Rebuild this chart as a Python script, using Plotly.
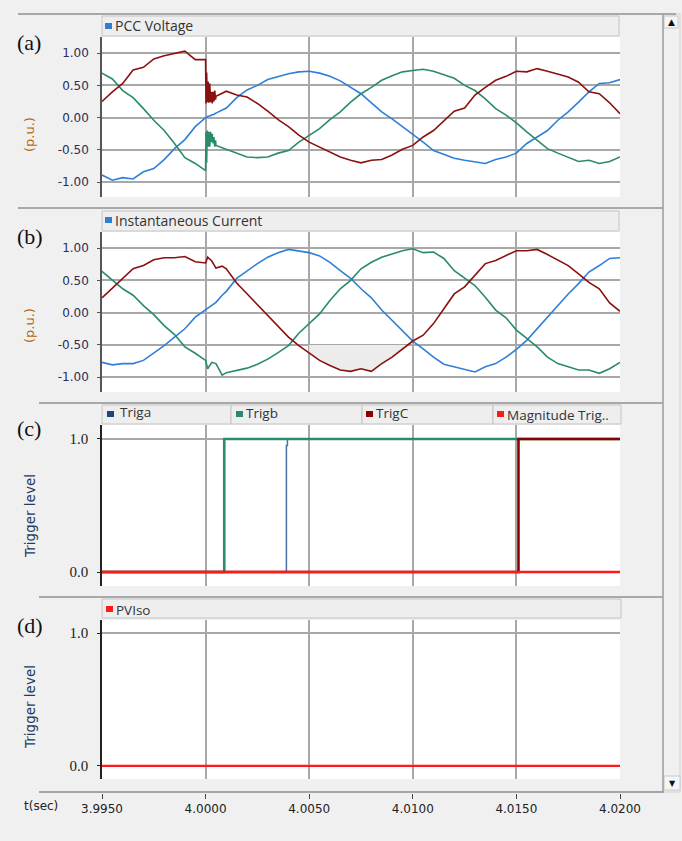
import plotly.graph_objects as go

W, H = 682, 841
def fx(p): return p / W
def fy(p): return 1 - p / H

# ---------------- data ----------------
t_base = [round(3.995 + 0.0005 * i, 5) for i in range(51)]
t_trans_a = [4.00002, 4.00005, 4.00008, 4.00012, 4.00016, 4.0002, 4.00024,
             4.00028, 4.00032, 4.00036, 4.0004, 4.00044, 4.00048]
t_a = t_base[:11] + t_trans_a + t_base[11:]

volt_c = [0.25, 0.40, 0.53, 0.74, 0.78, 0.91, 0.96, 0.99, 1.03, 0.90, 0.90,
          0.22, 0.70, 0.24, 0.56, 0.23, 0.53, 0.24, 0.40, 0.22, 0.40, 0.25, 0.42, 0.28,
          0.33, 0.41, 0.35, 0.32, 0.22, 0.10, -0.03, -0.14, -0.27, -0.38, -0.46, -0.54,
          -0.61, -0.66, -0.70, -0.66, -0.65, -0.58, -0.49, -0.43, -0.30, -0.20, -0.05,
          0.10, 0.15, 0.35, 0.47, 0.58, 0.64, 0.72, 0.71, 0.76, 0.72, 0.67, 0.63, 0.55,
          0.40, 0.37, 0.23, 0.06]
volt_b = [0.69, 0.60, 0.42, 0.31, 0.14, -0.04, -0.20, -0.40, -0.62, -0.71, -0.82,
          -0.22, -0.70, -0.20, -0.45, -0.22, -0.45, -0.22, -0.38, -0.25, -0.40, -0.30, -0.45, -0.35,
          -0.43, -0.49, -0.56, -0.61, -0.62, -0.61, -0.55, -0.51, -0.38, -0.27, -0.17, -0.03,
          0.09, 0.24, 0.37, 0.47, 0.58, 0.65, 0.71, 0.73, 0.75, 0.72, 0.67, 0.61, 0.50, 0.42,
          0.29, 0.14, 0.04, -0.08, -0.22, -0.35, -0.48, -0.55, -0.61, -0.68, -0.66, -0.71,
          -0.68, -0.61]
volt_a = [-0.89, -0.97, -0.93, -0.95, -0.84, -0.79, -0.65, -0.48, -0.34, -0.14, 0.00,
          0.00, 0.01, 0.01, 0.02, 0.02, 0.03, 0.03, 0.04, 0.04, 0.05, 0.05, 0.06, 0.06,
          0.07, 0.15, 0.31, 0.43, 0.50, 0.59, 0.64, 0.68, 0.71, 0.72, 0.69, 0.64, 0.57, 0.47,
          0.37, 0.23, 0.09, -0.02, -0.14, -0.25, -0.38, -0.51, -0.57, -0.63, -0.66, -0.69,
          -0.71, -0.65, -0.61, -0.55, -0.40, -0.30, -0.20, -0.04, 0.09, 0.24, 0.40, 0.53,
          0.54, 0.59]

t_b = t_base[:11] + [4.0001, 4.0003] + [t_base[11]] + [4.0008] + t_base[12:]
curr_c = [0.23, 0.38, 0.53, 0.68, 0.73, 0.82, 0.85, 0.85, 0.87, 0.79, 0.77,
          0.86, 0.80, 0.69, 0.72, 0.68,
          0.46, 0.29, 0.12, -0.05, -0.21, -0.38, -0.51, -0.63, -0.74, -0.82, -0.89, -0.91,
          -0.87, -0.91, -0.79, -0.69, -0.56, -0.44, -0.35, -0.17, 0.06, 0.29, 0.40, 0.58,
          0.76, 0.81, 0.89, 0.96, 0.96, 0.98, 0.90, 0.81, 0.73, 0.60, 0.47, 0.37, 0.15, 0.02]
curr_b = [0.64, 0.50, 0.37, 0.27, 0.11, -0.03, -0.20, -0.34, -0.53, -0.63, -0.74,
          -0.87, -0.77, -0.79, -0.97, -0.93,
          -0.89, -0.86, -0.80, -0.72, -0.62, -0.51, -0.32, -0.17, -0.02, 0.19, 0.37, 0.50,
          0.68, 0.78, 0.86, 0.91, 0.96, 0.99, 0.93, 0.94, 0.84, 0.65, 0.53, 0.42, 0.24, 0.04,
          -0.08, -0.27, -0.40, -0.53, -0.69, -0.79, -0.84, -0.89, -0.89, -0.94, -0.87, -0.77]
curr_a = [-0.77, -0.81, -0.79, -0.79, -0.74, -0.63, -0.51, -0.38, -0.25, -0.07, 0.05,
          0.06, 0.11, 0.16, 0.27, 0.33,
          0.53, 0.65, 0.76, 0.86, 0.93, 0.98, 0.95, 0.93, 0.88, 0.78, 0.65, 0.53, 0.37, 0.23,
          0.04, -0.12, -0.27, -0.44, -0.56, -0.69, -0.80, -0.84, -0.87, -0.92, -0.84, -0.79,
          -0.69, -0.57, -0.43, -0.25, -0.07, 0.12, 0.29, 0.45, 0.63, 0.73, 0.84, 0.85]

triga_t = [3.995, 4.0039, 4.00395, 4.020]
triga_v = [0, 0.95, 1, 1]
trigb_t = [3.995, 4.0009, 4.020]
trigb_v = [0, 1, 1]
trigc_t = [3.995, 4.0151, 4.020]
trigc_v = [0, 1, 1]
mag_t = [3.995, 4.020]
mag_v = [0, 0]
pviso_t = [3.995, 4.020]
pviso_v = [0, 0]

x_ticks = [3.995, 4.000, 4.005, 4.010, 4.015, 4.020]

BLUE = "#2f7fd8"
GREEN = "#2a8a6c"
DRED = "#8b1010"
GRID = "#a8a8a8"

fig = go.Figure()

# grey filled region in panel (b)
sel = [(t, v) for t, v in zip(t_b, curr_c) if t >= 4.005 and v < -0.5]
last_i = t_b.index(sel[-1][0])
t0, v0, t1, v1 = t_b[last_i], curr_c[last_i], t_b[last_i + 1], curr_c[last_i + 1]
t_cross = t0 + (-0.5 - v0) * (t1 - t0) / (v1 - v0)
fx_poly = [4.005] + [p[0] for p in sel] + [t_cross, 4.005]
fy_poly = [-0.5] + [p[1] for p in sel] + [-0.5, -0.5]
fig.add_trace(go.Scatter(x=fx_poly, y=fy_poly, fill="toself", fillcolor="#ececec",
                         mode="lines", line=dict(width=0), xaxis="x2", yaxis="y2",
                         showlegend=False, hoverinfo="skip"))

for ax, ts, series in [("", t_a, [(volt_a, BLUE), (volt_b, GREEN), (volt_c, DRED)]),
                       ("2", t_b, [(curr_a, BLUE), (curr_b, GREEN), (curr_c, DRED)])]:
    for vals, col in series:
        fig.add_trace(go.Scatter(x=ts, y=vals, mode="lines", line=dict(color=col, width=1.6),
                                 xaxis="x" + ax, yaxis="y" + ax, showlegend=False))

fig.add_trace(go.Scatter(x=triga_t, y=triga_v, mode="lines", line=dict(color="#4a70a8", width=1.5, shape="hv"),
                         xaxis="x3", yaxis="y3", showlegend=False))
fig.add_trace(go.Scatter(x=trigb_t, y=trigb_v, mode="lines", line=dict(color="#2a8a6e", width=2.6, shape="hv"),
                         xaxis="x3", yaxis="y3", showlegend=False))
fig.add_trace(go.Scatter(x=trigc_t, y=trigc_v, mode="lines", line=dict(color="#8b0000", width=2.6, shape="hv"),
                         xaxis="x3", yaxis="y3", showlegend=False))
fig.add_trace(go.Scatter(x=mag_t, y=mag_v, mode="lines", line=dict(color="#ff1a1a", width=2.6),
                         xaxis="x3", yaxis="y3", showlegend=False))
fig.add_trace(go.Scatter(x=pviso_t, y=pviso_v, mode="lines", line=dict(color="#ff1a1a", width=2.2),
                         xaxis="x4", yaxis="y4", showlegend=False))
# dummy trace for time axis
fig.add_trace(go.Scatter(x=[x_ticks[0], x_ticks[-1]], y=[0, 0], mode="lines", line=dict(width=0),
                         xaxis="x5", yaxis="y5", showlegend=False, hoverinfo="skip"))

XD = [fx(102), fx(620)]
def xaxis(anchor):
    return dict(domain=XD, anchor=anchor, range=[3.995, 4.020], tickvals=x_ticks,
                showgrid=True, gridcolor=GRID, gridwidth=1.5, showticklabels=False,
                zeroline=False, showline=False, ticks="", automargin=False)

def yaxis(top, bot, rng, tv, fmt, font, lc):
    return dict(domain=[fy(bot), fy(top)], anchor=None, range=rng, tickvals=tv,
                ticktext=[fmt.format(v) for v in tv], showgrid=True, gridcolor=GRID,
                gridwidth=1.5, zeroline=False, showline=True, linecolor=lc, linewidth=1.5,
                ticks="outside", ticklen=3, tickcolor=lc, tickfont=font, ticklabelstandoff=6,
                automargin=False)

f_ab = dict(family="DejaVu Sans", size=12, color="#2c2c54")
f_cd = dict(family="Liberation Serif", size=15, color="#222222")

ya = yaxis(37, 197, [-1.23, 1.25], [-1, -0.5, 0, 0.5, 1], "{:.2f}", f_ab, "#555555"); ya["anchor"] = "x"
yb = yaxis(232, 392, [-1.23, 1.25], [-1, -0.5, 0, 0.5, 1], "{:.2f}", f_ab, "#555555"); yb["anchor"] = "x2"
yc = yaxis(425, 586, [-0.105, 1.105], [0, 1], "{:.1f}", f_cd, "#222222"); yc["anchor"] = "x3"
yd = yaxis(620, 779, [-0.098, 1.098], [0, 1], "{:.1f}", f_cd, "#222222"); yd["anchor"] = "x4"

shapes = []
annotations = []

def line(x0, y0, x1, y1, color, width=1):
    shapes.append(dict(type="line", xref="paper", yref="paper", x0=fx(x0), y0=fy(y0),
                       x1=fx(x1), y1=fy(y1), line=dict(color=color, width=width)))

def rect(x0, y0, x1, y1, fill, lc=None, lw=0):
    shapes.append(dict(type="rect", xref="paper", yref="paper", x0=fx(x0), y0=fy(y0),
                       x1=fx(x1), y1=fy(y1), fillcolor=fill,
                       line=dict(color=lc or fill, width=lw), layer="below"))

def text(x, y, s, size=13, color="#333333", family="Open Sans", anchor="left", angle=0):
    annotations.append(dict(xref="paper", yref="paper", x=fx(x), y=fy(y), text=s,
                            showarrow=False, xanchor=anchor, yanchor="middle",
                            font=dict(family=family, size=size, color=color), textangle=angle))

# panel separators
line(18, 14, 676, 14, "#a8a8a8", 2)
line(18, 208, 663, 208, "#a8a8a8", 2)
line(39, 403, 663, 403, "#a8a8a8", 2)
line(39, 597, 663, 597, "#a8a8a8", 2)
line(39, 792, 664, 792, "#8a8a8a", 1.5)

# legend bars
rect(102, 16, 619, 36, "#eeeeee", "#c4c4c4", 1)
rect(102, 211, 619, 231, "#eeeeee", "#c4c4c4", 1)
for x0, x1 in [(102, 231), (231, 362), (362, 493), (493, 621)]:
    rect(x0, 405, x1, 424, "#eeeeee", "#c4c4c4", 1)
rect(102, 599, 621, 618, "#eeeeee", "#c4c4c4", 1)

def marker(x, y, col):
    shapes.append(dict(type="rect", xref="paper", yref="paper", x0=fx(x), y0=fy(y + 3),
                       x1=fx(x + 7), y1=fy(y - 3), fillcolor=col, line=dict(width=0)))

marker(105, 26, BLUE); text(113, 26, "PCC Voltage", 14)
marker(105, 220, BLUE); text(113, 220, "Instantaneous Current", 14)
marker(107, 414, "#1f4480"); text(118, 412, "Triga", 13.5)
marker(236, 414, "#2a8a6e"); text(244, 413, "Trigb", 13.5)
marker(366, 414, "#8b0000"); text(374, 413, "TrigC", 13.5)
marker(497, 414, "#ff1a1a"); text(505, 415, "Magnitude Trig..", 13.5)
marker(106, 609, "#ff1a1a"); text(114, 610, "PVIso", 13.5)

# panel labels
for lab, y in [("(a)", 42), ("(b)", 237), ("(c)", 428), ("(d)", 625)]:
    text(15, y, lab, 22, "#111111", "Liberation Serif")

# axis titles
text(30, 135, "(p.u.)", 13, "#b8650f", "DejaVu Sans", "center", -90)
text(30, 326, "(p.u.)", 13, "#b8650f", "DejaVu Sans", "center", -90)
text(30, 516, "Trigger level", 13.5, "#243a5e", "DejaVu Sans", "center", -90)
text(30, 707, "Trigger level", 13.5, "#243a5e", "DejaVu Sans", "center", -90)
text(22, 806, "t(sec)", 12, "#222222", "DejaVu Sans")

# scrollbar
rect(663, 14, 680, 792, "#f0f0f0", "#d0d0d0", 1)
line(663, 14, 663, 792, "#a0a0a0", 1.5)
rect(664, 16, 678, 28, "#f6f6f6", "#c8c8c8", 1)
rect(664, 776, 680, 790, "#f6f6f6", "#c8c8c8", 1)
text(671, 22, "▲", 9, "#111111", "DejaVu Sans", "center")
text(672, 783, "▼", 8, "#111111", "DejaVu Sans", "center")

fig.update_layout(
    width=W, height=H, margin=dict(l=0, r=0, t=0, b=0, autoexpand=False),
    paper_bgcolor="#f0f0f0", plot_bgcolor="#ffffff", showlegend=False,
    xaxis=xaxis("y"), xaxis2=xaxis("y2"), xaxis3=xaxis("y3"), xaxis4=xaxis("y4"),
    yaxis=ya, yaxis2=yb, yaxis3=yc, yaxis4=yd,
    xaxis5=dict(domain=XD, anchor="y5", range=[3.995, 4.020], tickvals=x_ticks,
                ticktext=["{:.4f}".format(v) for v in x_ticks], showgrid=False,
                zeroline=False, showline=False, ticks="outside", ticklen=5, automargin=False,
                tickcolor="#444444", tickfont=dict(family="DejaVu Sans", size=12, color="#222222")),
    yaxis5=dict(domain=[fy(793), fy(792)], anchor="x5", visible=False, range=[-1, 1]),
    shapes=shapes, annotations=annotations,
)

fig.write_html("out.html")
